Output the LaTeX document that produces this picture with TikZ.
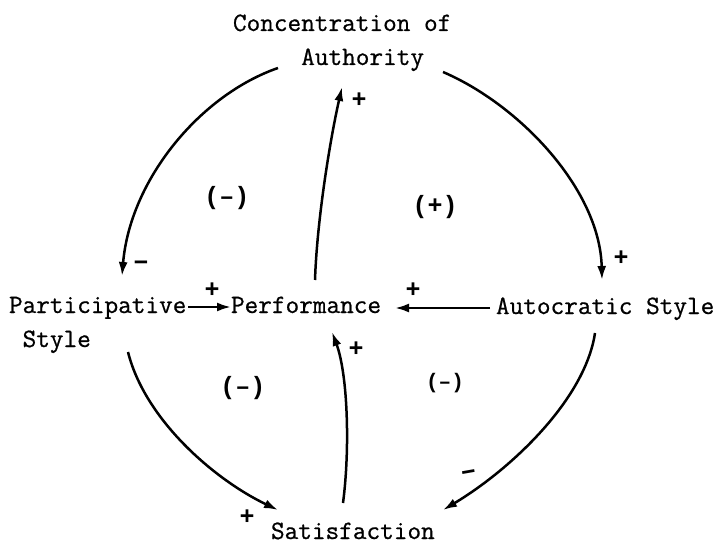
\documentclass[tikz,border=0pt]{standalone}
\usepackage{fontspec}
\newfontfamily\signfont{Liberation Mono}
\newfontfamily\diagfont[FakeBold=0.7]{Latin Modern Mono}
\usetikzlibrary{calc,arrows.meta}
\begin{document}
\begin{tikzpicture}[x=1pt,y=-1pt,
  txt/.style={font=\diagfont\fontsize{26.5}{34}\selectfont, inner sep=0pt, outer sep=0pt, anchor=base west},
  sgn/.style={font=\signfont\bfseries\fontsize{25}{26}\selectfont, inner sep=0pt},
  msgn/.style={font=\signfont\bfseries\fontsize{28}{28}\selectfont, inner sep=0pt},
  loop/.style={font=\signfont\bfseries\fontsize{25}{28}\selectfont, inner sep=0pt},
  link/.style={line width=2.5pt, -{Latex[length=14pt,width=9pt]}}
]
\useasboundingbox (0,0) rectangle (725,545);
\fill[white] (0,0) rectangle (725,545);

\node[txt, align=left] (conc) at (233,65) {Concentration of\\\hphantom{Conce}Authority};
\node[txt, align=left] (part) at (9,347) {Participative\\\hphantom{P}Style};
\node[txt] (perf) at (231,313) {Performance};
\node[txt] (auto) at (496,314) {Autocratic Style};
\node[txt] (sat) at (271,539) {Satisfaction};

\draw[link] ($(conc.base west)+(45,3)$) .. controls +(-78,27) and +(8,-96) .. ($(part.base west)+(113,-71)$);
\draw[link] ($(conc.base west)+(210,7)$) .. controls +(77,33) and +(-2,-90) .. ($(auto.base west)+(106,-34)$);
\draw[link] ($(part.base west)+(119,5)$) .. controls +(17,68) and +(-63,-30) .. ($(sat.base west)+(7,-29)$);
\draw[link] ($(auto.base west)+(99,19)$) .. controls +(-10,67) and +(67,-40) .. ($(sat.base west)+(172,-29)$);
\draw[link] ($(sat.base west)+(72,-36)$) .. controls +(7,-53) and +(16,43) .. ($(perf.base west)+(101,19)$);
\draw[link] ($(perf.base west)+(84,-33)$) .. controls +(2,-60) and +(-12,53) .. ($(conc.base west)+(109,22)$);
\draw[link] ($(part.base west)+(179,-40)$) -- ($(perf.base west)+(0,-6)$);
\draw[link] ($(auto.base west)+(-6,-6)$) -- ($(perf.base west)+(164,-5)$);

\node[sgn] (s1) at (212,290) {+};
\node[sgn] (s2) at (413,290) {+};
\node[msgn] (s3) at (141,265) {–};
\node[sgn] (s4) at (621,258) {+};
\node[sgn] (s5) at (359,100) {+};
\node[sgn] (s6) at (356,349) {+};
\node[sgn] (s7) at (247,517) {+};
\node[msgn, rotate=10] (s8) at (469,475) {–};

\node[loop] (l1) at (227,198) {(–)};
\node[loop] (l2) at (435,207) {(+)};
\node[loop] (l3) at (243,388) {(–)};
\node[loop, font=\signfont\bfseries\fontsize{21}{22}\selectfont] (l4) at (445,383) {(–)};
\end{tikzpicture}
\end{document}
